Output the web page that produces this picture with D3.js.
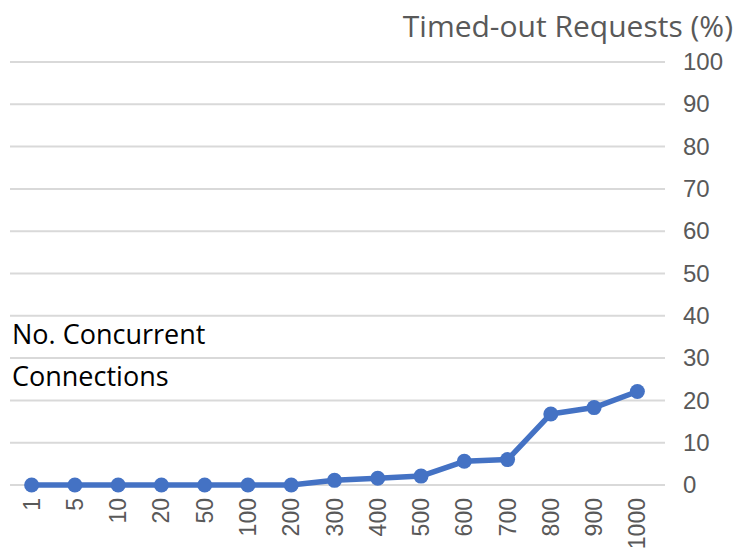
<!DOCTYPE html>
<html>
<head>
<meta charset="utf-8">
<script src="https://cdn.jsdelivr.net/npm/d3@7"></script>
<style>
  body { margin: 0; background: #fff; }
  svg { display: block; font-family: "Open Sans", sans-serif; }
</style>
</head>
<body>
<svg id="chart" width="735" height="556"></svg>
<script>
// concurrent connections vs timed-out requests
const connections = ['1', '5', '10', '20', '50', '100', '200', '300', '400', '500', '600', '700', '800', '900', '1000']
const timedOut = [0, 0, 0, 0, 0, 0, 0, 1.1, 1.6, 2.1, 5.6, 6.0, 16.8, 18.3, 22.1]
const yTicks = [0, 10, 20, 30, 40, 50, 60, 70, 80, 90, 100]

const svg = d3.select('#chart')
const margin = { left: 10, right: 70, top: 62, bottom: 71 }
const width = 735
const height = 556

const x = d3.scaleBand()
  .domain(connections)
  .range([margin.left, width - margin.right - 6])

const y = d3.scaleLinear()
  .domain([0, 100])
  .range([height - margin.bottom, margin.top])

// gridlines
svg.append('g')
  .selectAll('line')
  .data(yTicks)
  .enter()
  .append('line')
  .attr('x1', margin.left)
  .attr('x2', width - margin.right)
  .attr('y1', d => y(d))
  .attr('y2', d => y(d))
  .attr('stroke', '#d9d9d9')
  .attr('stroke-width', 2)

// right axis
const yAxis = svg.append('g')
  .attr('transform', `translate(${width - margin.right + 7},0)`)
  .call(d3.axisRight(y).tickValues(yTicks).tickSize(0).tickPadding(11))
yAxis.select('.domain').remove()
yAxis.selectAll('text')
  .attr('fill', '#595959')
  .style('font-size', '24px')

// bottom axis, rotated labels
const xAxis = svg.append('g')
  .attr('transform', `translate(0,${height - margin.bottom})`)
  .call(d3.axisBottom(x).tickSize(0))
xAxis.select('.domain').remove()
xAxis.selectAll('text')
  .attr('fill', '#595959')
  .style('font-size', '23px')
  .attr('text-anchor', 'end')
  .attr('transform', 'rotate(-90)')
  .attr('x', -13)
  .attr('y', 0)
  .attr('dy', '0.35em')

// line
const line = d3.line()
  .x((d, i) => x(connections[i]) + x.bandwidth() / 2)
  .y(d => y(d))

svg.append('path')
  .datum(timedOut)
  .attr('fill', 'none')
  .attr('stroke', '#4472c4')
  .attr('stroke-width', 5.5)
  .attr('stroke-linejoin', 'round')
  .attr('d', line)

svg.append('g')
  .selectAll('circle')
  .data(timedOut)
  .enter()
  .append('circle')
  .attr('cx', (d, i) => x(connections[i]) + x.bandwidth() / 2)
  .attr('cy', d => y(d))
  .attr('r', 7.5)
  .attr('fill', '#4472c4')

// axis titles
svg.append('text')
  .attr('x', 733)
  .attr('y', 37)
  .attr('text-anchor', 'end')
  .attr('fill', '#595959')
  .style('font-size', '30px')
  .text('Timed-out Requests (%)')

const xTitle = svg.append('text')
  .attr('fill', '#000')
  .style('font-size', '27px')
xTitle.append('tspan').attr('x', 12).attr('y', 344).text('No. Concurrent')
xTitle.append('tspan').attr('x', 12).attr('y', 386).text('Connections')
</script>
</body>
</html>
